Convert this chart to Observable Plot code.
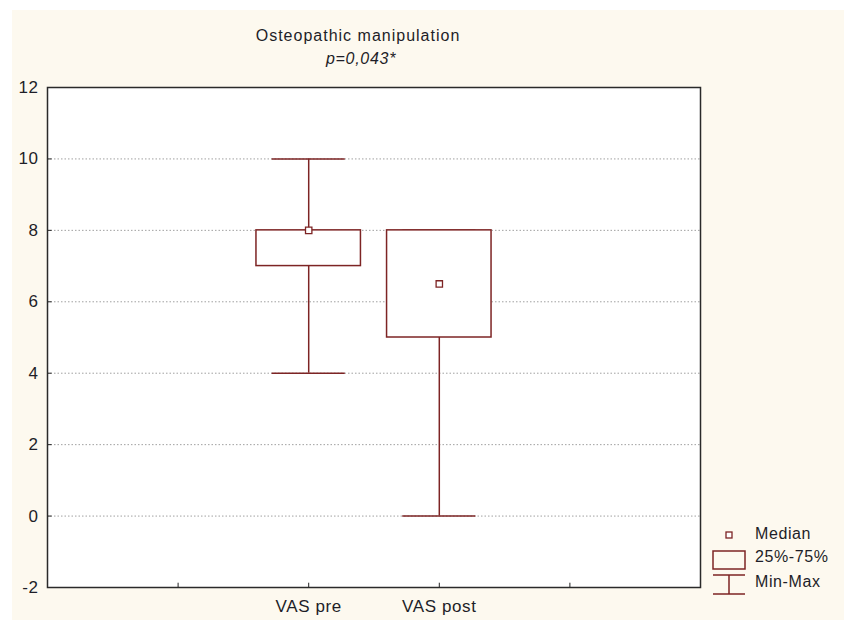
<!DOCTYPE html>
<html>
<head>
<meta charset="utf-8">
<script src="https://cdn.jsdelivr.net/npm/d3@7"></script>
<script src="https://cdn.jsdelivr.net/npm/@observablehq/plot@0.6"></script>
<style>
  html, body { margin: 0; padding: 0; background: #ffffff; }
  #wrap { position: relative; width: 844px; height: 620px; overflow: hidden; font-family: "Liberation Sans", Arial, sans-serif; color: #1e1e28; }
  #cream { position: absolute; left: 12px; top: 10px; width: 832px; height: 610px; background: #fdf9ef; }
  #chart { position: absolute; left: 0; top: 0; }
  .t { position: absolute; white-space: nowrap; }
  #title1 { left: 358px; top: 27px; transform: translateX(-50%); font-size: 16px; letter-spacing: 1px; }
  #title2 { left: 361px; top: 50px; transform: translateX(-50%); font-size: 16px; font-style: italic; letter-spacing: 0.7px; }
  .leg { left: 755px; font-size: 16px; letter-spacing: 0.6px; }
  #legsvg { position: absolute; left: 0; top: 0; }
  #chart svg text { letter-spacing: 0.6px; }
</style>
</head>
<body>
<div id="wrap">
  <div id="cream"></div>
  <div id="chart"></div>
  <div class="t" id="title1">Osteopathic manipulation</div>
  <div class="t" id="title2">p=0,043*</div>
  <svg id="legsvg" width="844" height="620"></svg>
  <div class="t leg" style="top:525px">Median</div>
  <div class="t leg" style="top:548px">25%-75%</div>
  <div class="t leg" style="top:573px">Min-Max</div>
</div>
<script>
// ---- data ----
const categories = ["VAS pre", "VAS post"];
const minimums = [4, 0];
const quartile1 = [7, 5];
const medians = [8, 6.5];
const quartile3 = [8, 8];
const maximums = [10, 8];
const yTicks = [-2, 0, 2, 4, 6, 8, 10, 12];
const gridValues = [0, 2, 4, 6, 8, 10];
const legendLabels = ["Median", "25%-75%", "Min-Max"];

const boxColor = "#7d2424";
const rows = categories.map((c, i) => ({
  cat: c, pos: i + 2,
  min: minimums[i], q1: quartile1[i], med: medians[i], q3: quartile3[i], max: maximums[i]
}));
const boxHalf = 0.40, capHalf = 0.28;

const plot = Plot.plot({
  width: 844,
  height: 620,
  marginLeft: 47,
  marginRight: 144,
  marginTop: 87,
  marginBottom: 33,
  style: { background: "transparent", fontFamily: "Liberation Sans, Arial, sans-serif", fontSize: "17px", color: "#1e1e28" },
  x: { type: "linear", domain: [0, 5] },
  y: { domain: [-2, 12] },
  marks: [
    Plot.frame({ fill: "white", stroke: "none" }),
    Plot.ruleY(gridValues, { stroke: "#a0a0a0", strokeDasharray: "1.5,2", strokeWidth: 1 }),
    Plot.axisY({ ticks: yTicks, tickSize: 0, tickPadding: 9, fontSize: 17, label: null, tickFormat: d => String(d) }),
    Plot.axisX({ ticks: [1, 2, 3, 4], tickSize: 0, tickPadding: 12, fontSize: 17,
      tickFormat: d => (d >= 2 && d - 2 < categories.length) ? categories[d - 2] : "", label: null }),
    // inward tick marks
    Plot.ruleY(yTicks, { y: d => d, x1: 0, x2: 0.035, stroke: "#222" }),
    Plot.ruleX([1, 2, 3, 4], { x: d => d, y1: -2, y2: -1.88, stroke: "#222" }),
    // whiskers
    Plot.ruleX(rows, { x: "pos", y1: "min", y2: "q1", stroke: boxColor, strokeWidth: 1.5 }),
    Plot.ruleX(rows, { x: "pos", y1: "q3", y2: "max", stroke: boxColor, strokeWidth: 1.5 }),
    Plot.ruleY(rows, { y: "min", x1: d => d.pos - capHalf, x2: d => d.pos + capHalf, stroke: boxColor, strokeWidth: 1.5 }),
    Plot.ruleY(rows, { y: "max", x1: d => d.pos - capHalf, x2: d => d.pos + capHalf, stroke: boxColor, strokeWidth: 1.5 }),
    // boxes
    Plot.rect(rows, { x1: d => d.pos - boxHalf, x2: d => d.pos + boxHalf, y1: "q1", y2: "q3", fill: "white", stroke: boxColor, strokeWidth: 1.5 }),
    // medians
    Plot.dot(rows, { x: "pos", y: "med", symbol: "square", r: 3.6, fill: "white", stroke: boxColor, strokeWidth: 1.3 }),
    Plot.frame({ stroke: "#2a2a2a", strokeWidth: 1.5 })
  ]
});
document.getElementById("chart").appendChild(plot);

// legend icons
const lg = d3.select("#legsvg");
lg.append("rect").attr("x", 726).attr("y", 532).attr("width", 6).attr("height", 6)
  .attr("fill", "white").attr("stroke", boxColor).attr("stroke-width", 1.3);
lg.append("rect").attr("x", 713).attr("y", 551).attr("width", 32).attr("height", 18)
  .attr("fill", "none").attr("stroke", boxColor).attr("stroke-width", 1.5);
lg.append("path").attr("d", "M713,575H745M729,575V594M713,594H745")
  .attr("fill", "none").attr("stroke", boxColor).attr("stroke-width", 1.5);
</script>
</body>
</html>
